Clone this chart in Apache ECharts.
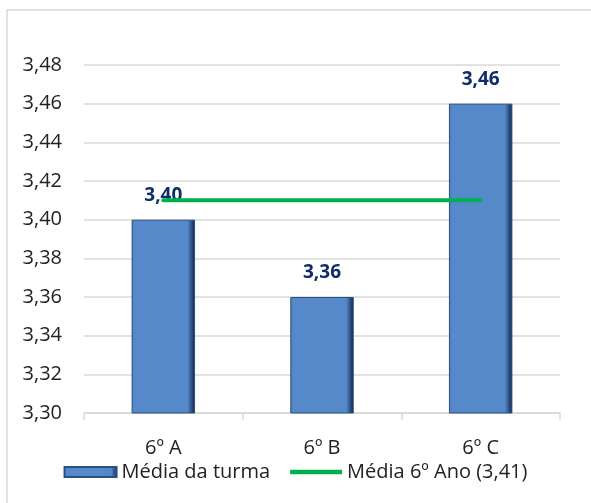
<!DOCTYPE html>
<html>
<head>
<meta charset="utf-8">
<script src="https://cdn.jsdelivr.net/npm/echarts@6/dist/echarts.min.js"></script>
<style>
  html, body { margin: 0; padding: 0; background: #fff; }
  #chart { width: 591px; height: 503px; }
</style>
</head>
<body>
<div id="chart"></div>
<script>
// dados
const turmas = ['6º A', '6º B', '6º C']
const mediaTurma = [3.40, 3.36, 3.46]
const mediaAno = [3.41, 3.41, 3.41]
const nomeBarra = 'Média da turma'
const nomeLinha = 'Média 6º Ano (3,41)'

const fmt = v => v.toFixed(2).replace('.', ',')
const fonte = '"Open Sans", "Noto Sans", sans-serif'

const myChart = echarts.init(document.getElementById('chart'))
const option = {
  backgroundColor: '#fff',
  animation: false,
  textStyle: { fontFamily: fonte },
  graphic: [
    {
      type: 'rect',
      shape: { x: 7, y: 10, width: 640, height: 560 },
      style: { fill: 'none', stroke: '#d9d9d9', lineWidth: 1.5 },
      z: -1
    }
  ],
  grid: { left: 84, right: 31, top: 65, bottom: 90 },
  legend: {
    top: 457,
    left: 'center',
    itemGap: 20,
    itemWidth: 52,
    itemHeight: 10,
    textStyle: { fontSize: 20, color: '#222', fontFamily: fonte },
    data: [
      { name: nomeBarra, icon: 'rect' },
      { name: nomeLinha, icon: 'path://M0,0L52,0L52,4.5L0,4.5Z' }
    ]
  },
  xAxis: {
    type: 'category',
    data: turmas,
    axisLine: { lineStyle: { color: '#d9d9d9', width: 1.5 } },
    axisTick: { show: true, length: 7, lineStyle: { color: '#d9d9d9', width: 1.5 } },
    axisLabel: { fontSize: 20, color: '#222', margin: 25 }
  },
  yAxis: {
    type: 'value',
    min: 3.30,
    max: 3.48,
    interval: 0.02,
    axisLine: { show: false },
    axisTick: { show: false },
    splitLine: { lineStyle: { color: '#d9d9d9', width: 1.5 } },
    axisLabel: { fontSize: 20, color: '#222', margin: 22, formatter: fmt }
  },
  series: [
    {
      name: nomeBarra,
      type: 'bar',
      data: mediaTurma,
      barWidth: '40%',
      itemStyle: {
        color: new echarts.graphic.LinearGradient(0, 0, 1, 0, [
          { offset: 0, color: '#4a7bbd' },
          { offset: 0.05, color: '#5689c9' },
          { offset: 0.88, color: '#5689c9' },
          { offset: 0.94, color: '#2f558c' },
          { offset: 1, color: '#13243f' }
        ]),
        borderColor: '#2c4f80',
        borderWidth: 1
      },
      label: {
        show: true,
        position: 'top',
        distance: 15,
        fontSize: 19,
        fontWeight: 'bold',
        color: '#0f2d69',
        formatter: p => fmt(p.value)
      },
      z: 2
    },
    {
      name: nomeLinha,
      type: 'line',
      data: mediaAno,
      symbol: 'none',
      lineStyle: { color: '#00b050', width: 4, cap: 'round' },
      itemStyle: { color: '#00b050' },
      z: 3
    }
  ]
}
myChart.setOption(option)
</script>
</body>
</html>
